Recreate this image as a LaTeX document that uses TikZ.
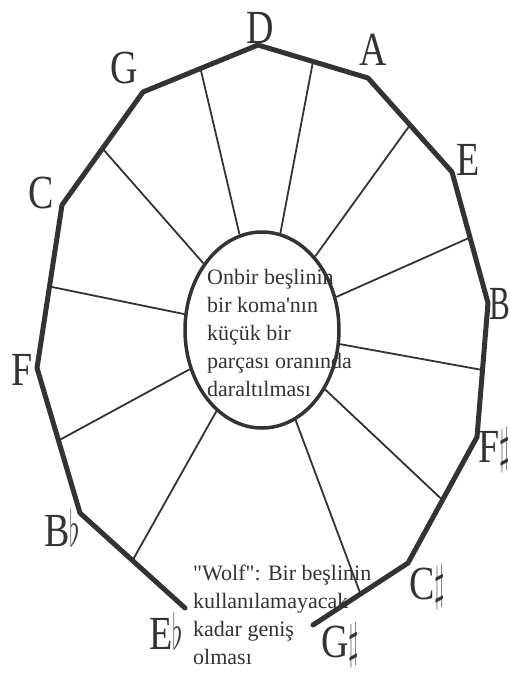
\RequirePackage{fix-cm}
\documentclass[tikz,border=0pt]{standalone}
\usepackage{fontspec}
\setmainfont{Liberation Serif}[Ligatures=TeXOff]
\usepackage{graphicx}
\usetikzlibrary{calc, shapes.geometric}
\colorlet{ink}{black!80}
\newcommand{\pitch}[1]{\scalebox{1}[1.25]{#1}}
\newcommand{\acc}[1]{\scalebox{0.72}[1.05]{$#1$}}

\begin{document}
\begin{tikzpicture}[x=1pt, y=-1pt,
  rim/.style={line width=5pt, ink, line join=round, line cap=round},
  spoke/.style={line width=1.8pt, ink},
  pitchname/.style={font=\fontsize{38}{38}\selectfont, inner sep=0pt, ink},
  remark/.style={font=\fontsize{22}{28}\selectfont, align=left, inner sep=0pt, ink}]
  \useasboundingbox (0,0) rectangle (510,673);
  % texts
  \node[remark, anchor=west] (inner) at (207,333)
        {Onbir beşlinin\\bir koma'nın\\küçük bir\\parçası oranında\\daraltılması};
  \node[remark, anchor=west] (wolf) at (193,615)
        {"Wolf": Bir beşlinin\\kullanılamayacak\\kadar geniş\\olması};
  % corners of the circle of fifths
  \foreach \n/\x/\y in {Eb/185/608, Bb/80/513, F/37/368, C/62/205, G/143/92,
                        D/258/45, A/368/78, E/452/172, B/488/303, Fs/477/437,
                        Cs/408/563, Gs/313/625}{
    \coordinate (\n) at (\x,\y);
  }
  \draw[rim] (Eb) -- (Bb) -- (F) -- (C) -- (G) -- (D) -- (A) -- (E)
        -- (B) -- (Fs) -- (Cs) -- (Gs);
  \node[ellipse, draw=ink, line width=3.5pt, minimum width=154pt,
        minimum height=196pt, inner sep=0pt] (core) at (262,330) {};
  \foreach \a/\b in {Eb/Bb, Bb/F, F/C, C/G, G/D, D/A, A/E, E/B, B/Fs, Fs/Cs, Cs/Gs}{
    \draw[spoke] ($(\a)!0.5!(\b)$) -- (core);
  }
  % note names
  \foreach \n/\t/\x/\y in {D/D/260/28, G/G/124/68, A/A/373/50, C/C/41/193,
                           E/E/468/160, F/F/22/370, Cs/C\acc{\sharp}/427/587,
                           Gs/G\acc{\sharp}/340/645, Bb/B\acc{\flat}/62/528,
                           Eb/E\acc{\flat}/166/631}{
    \node[pitchname] (l\n) at (\x,\y) {\pitch{\t}};
  }
  \node[pitchname, anchor=east] (lB) at (510,304) {\scalebox{0.82}[1.25]{B}};
  \node[pitchname, anchor=east] (lFs) at (510,450) {\pitch{F\acc{\sharp}}};
\end{tikzpicture}
\end{document}
